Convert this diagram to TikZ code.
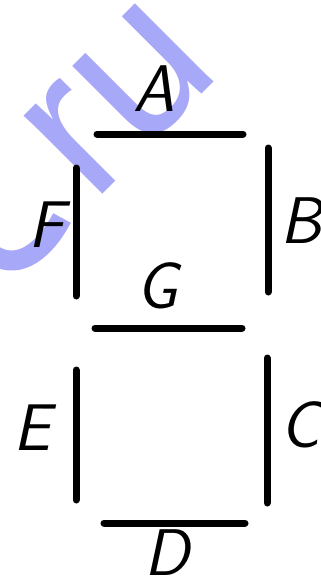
\documentclass[tikz,border=0pt]{standalone}
\usepackage{fontspec}
\newfontfamily\wmfont{Liberation Sans}
\definecolor{wm}{RGB}{168,168,248}
\begin{document}
\begin{tikzpicture}[x=1pt,y=-1pt,
  seg/.style={line width=7pt,line cap=round},
  lbl/.style={font=\fontsize{66}{66}\sffamily\itshape,inner sep=0pt}]
\useasboundingbox (0,0) rectangle (321,581);
% watermark
\begin{scope}
\clip (0,0) rectangle (321,581);
\node[text=wm,font=\wmfont\fontsize{210}{210}\selectfont,rotate=45,inner sep=0pt] (wmark) at (119,99) {ru};
\draw[wm,line width=20pt] (-5,256) .. controls (20,270) and (45,250) .. (62,218);
\end{scope}
% segments
\coordinate (a1) at (97,134);  \coordinate (a2) at (243,134);
\coordinate (b1) at (268,148); \coordinate (b2) at (268,292);
\coordinate (c1) at (267,358); \coordinate (c2) at (267,503);
\coordinate (d1) at (104,523); \coordinate (d2) at (245,523);
\coordinate (e1) at (76,370);  \coordinate (e2) at (76,500);
\coordinate (f1) at (76,168);  \coordinate (f2) at (76,296);
\coordinate (g1) at (95,328);  \coordinate (g2) at (242,328);
\draw[seg] (a1) -- (a2);
\draw[seg] (b1) -- (b2);
\draw[seg] (c1) -- (c2);
\draw[seg] (d1) -- (d2);
\draw[seg] (e1) -- (e2);
\draw[seg] (f1) -- (f2);
\draw[seg] (g1) -- (g2);
% labels
\node[lbl] (lA) at (154,89) {A};
\node[lbl] (lB) at (301,221) {B};
\node[lbl] (lC) at (300,425) {C};
\node[lbl] (lD) at (167,553) {D};
\node[lbl] (lE) at (32,428) {E};
\node[lbl] (lF) at (46,225) {F};
\node[lbl] (lG) at (157,286) {G};
\end{tikzpicture}
\end{document}
